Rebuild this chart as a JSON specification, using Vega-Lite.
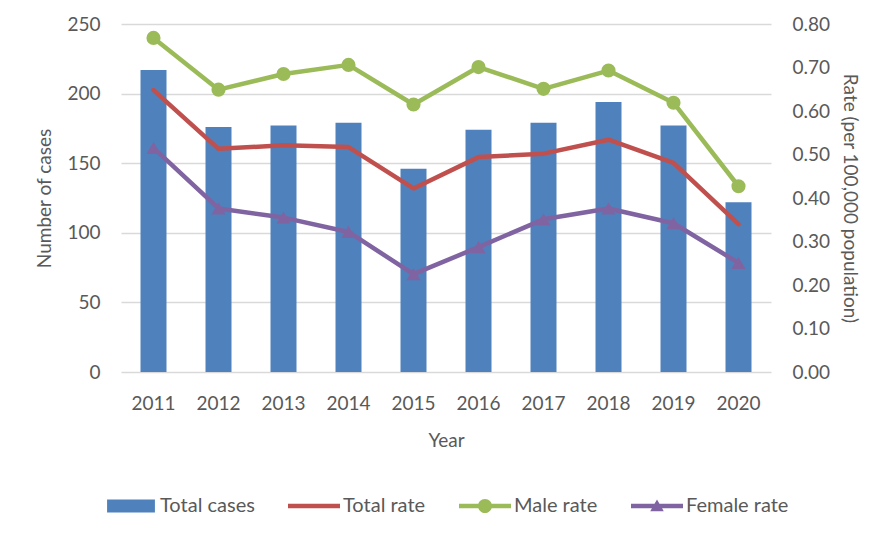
{
  "$schema": "https://vega.github.io/schema/vega-lite/v6.json",
  "width": 650,
  "height": 348,
  "autosize": {"type": "none"},
  "padding": {"left": 121, "top": 24, "right": 123, "bottom": 163},
  "background": "white",
  "config": {
    "view": {"stroke": null},
    "font": "Lato",
    "axis": {
      "labelFont": "Lato",
      "labelFontSize": 19,
      "labelColor": "#595959",
      "titleFont": "Lato",
      "titleFontSize": 19,
      "titleFontWeight": "normal",
      "titleColor": "#595959",
      "ticks": false,
      "domain": false
    },
    "legend": {
      "labelFont": "Lato",
      "labelFontSize": 20,
      "labelColor": "#595959"
    }
  },
  "data": {
    "values": [
      {"Year": "2011", "cases": 217, "Total rate": 0.648, "Male rate": 0.768, "Female rate": 0.515},
      {"Year": "2012", "cases": 176, "Total rate": 0.513, "Male rate": 0.649, "Female rate": 0.376},
      {"Year": "2013", "cases": 177, "Total rate": 0.521, "Male rate": 0.685, "Female rate": 0.355},
      {"Year": "2014", "cases": 179, "Total rate": 0.517, "Male rate": 0.706, "Female rate": 0.322},
      {"Year": "2015", "cases": 146, "Total rate": 0.422, "Male rate": 0.615, "Female rate": 0.225},
      {"Year": "2016", "cases": 174, "Total rate": 0.494, "Male rate": 0.701, "Female rate": 0.287},
      {"Year": "2017", "cases": 179, "Total rate": 0.502, "Male rate": 0.651, "Female rate": 0.351},
      {"Year": "2018", "cases": 194, "Total rate": 0.534, "Male rate": 0.693, "Female rate": 0.376},
      {"Year": "2019", "cases": 177, "Total rate": 0.481, "Male rate": 0.619, "Female rate": 0.342},
      {"Year": "2020", "cases": 122, "Total rate": 0.340, "Male rate": 0.427, "Female rate": 0.251}
    ]
  },
  "encoding": {
    "x": {
      "field": "Year",
      "type": "ordinal",
      "scale": {"paddingInner": 0.6, "paddingOuter": 0.3},
      "axis": {"labelAngle": 0, "labelPadding": 22, "titlePadding": 18, "title": "Year"}
    }
  },
  "layer": [
    {
      "mark": {"type": "bar", "color": "#4F81BD"},
      "encoding": {
        "y": {
          "field": "cases",
          "type": "quantitative",
          "title": "Number of cases",
          "scale": {"domain": [0, 250]},
          "axis": {
            "orient": "left",
            "values": [0, 50, 100, 150, 200, 250],
            "grid": true,
            "gridColor": "#d9d9d9",
            "gridWidth": 1.5,
            "labelPadding": 21,
            "titlePadding": 12
          }
        },
        "color": {
          "datum": "Total cases",
          "type": "nominal",
          "title": null,
          "scale": {
            "domain": ["Total cases", "Total rate", "Male rate", "Female rate"],
            "range": ["#4F81BD", "#C0504D", "#9BBB59", "#8064A2"]
          },
          "legend": {
            "title": null,
            "orient": "none",
            "direction": "horizontal",
            "legendX": -16,
            "legendY": 456,
            "symbolSize": 2704,
            "labelOffset": 3,
            "columnPadding": 33,
            "columns": 4,
            "encode": {
              "symbols": {
                "update": {
                  "shape": [
                    {"test": "datum.value === 'Total cases'", "value": "M-0.92,-0.25H0.92V0.25H-0.92Z"},
                    {"test": "datum.value === 'Total rate'", "value": "M-1,-0.09H1V0.09H-1Z"},
                    {"test": "datum.value === 'Male rate'", "value": "M-1,-0.09H1V0.09H-1Z M-0.27,0A0.27,0.27 0 1,1 0.27,0A0.27,0.27 0 1,1 -0.27,0Z"},
                    {"value": "M-1,-0.09H1V0.09H-1Z M-0.26,0.2L0,-0.25L0.26,0.2Z"}
                  ],
                  "fill": {"scale": "color", "field": "value"},
                  "stroke": {"value": "transparent"},
                  "strokeWidth": {"value": 0},
                  "opacity": {"value": 1},
                  "fillOpacity": {"value": 1}
                }
              }
            }
          }
        }
      }
    },
    {
      "transform": [
        {"fold": ["Total rate", "Male rate", "Female rate"], "as": ["series", "rate"]}
      ],
      "encoding": {
        "y": {
          "field": "rate",
          "type": "quantitative",
          "title": "Rate (per 100,000 population)",
          "scale": {"domain": [0, 0.8]},
          "axis": {
            "orient": "right",
            "values": [0, 0.1, 0.2, 0.3, 0.4, 0.5, 0.6, 0.7, 0.8],
            "format": ".2f",
            "grid": false,
            "labelPadding": 21,
            "titlePadding": 10
          }
        },
        "color": {
          "field": "series",
          "type": "nominal",
          "title": null,
          "legend": {
            "title": null,
            "orient": "none",
            "direction": "horizontal",
            "legendX": -16,
            "legendY": 456,
            "symbolSize": 2704,
            "labelOffset": 3,
            "columnPadding": 33,
            "columns": 4,
            "encode": {
              "symbols": {
                "update": {
                  "shape": [
                    {"test": "datum.value === 'Total cases'", "value": "M-0.92,-0.25H0.92V0.25H-0.92Z"},
                    {"test": "datum.value === 'Total rate'", "value": "M-1,-0.09H1V0.09H-1Z"},
                    {"test": "datum.value === 'Male rate'", "value": "M-1,-0.09H1V0.09H-1Z M-0.27,0A0.27,0.27 0 1,1 0.27,0A0.27,0.27 0 1,1 -0.27,0Z"},
                    {"value": "M-1,-0.09H1V0.09H-1Z M-0.26,0.2L0,-0.25L0.26,0.2Z"}
                  ],
                  "fill": {"scale": "color", "field": "value"},
                  "stroke": {"value": "transparent"},
                  "strokeWidth": {"value": 0},
                  "opacity": {"value": 1},
                  "fillOpacity": {"value": 1}
                }
              }
            }
          }
        }
      },
      "layer": [
        {
          "mark": {"type": "line", "strokeWidth": 4.5, "strokeJoin": "round", "strokeCap": "round"},
          "encoding": {"detail": {"field": "series"}}
        },
        {
          "transform": [{"filter": "datum.series !== 'Total rate'"}],
          "mark": {"type": "point", "filled": true, "opacity": 1},
          "encoding": {
            "shape": {
              "field": "series",
              "type": "nominal",
              "scale": {"domain": ["Male rate", "Female rate"], "range": ["circle", "triangle-up"]},
              "legend": null
            },
            "size": {"value": 200}
          }
        }
      ]
    }
  ],
  "resolve": {"scale": {"y": "independent"}}
}
